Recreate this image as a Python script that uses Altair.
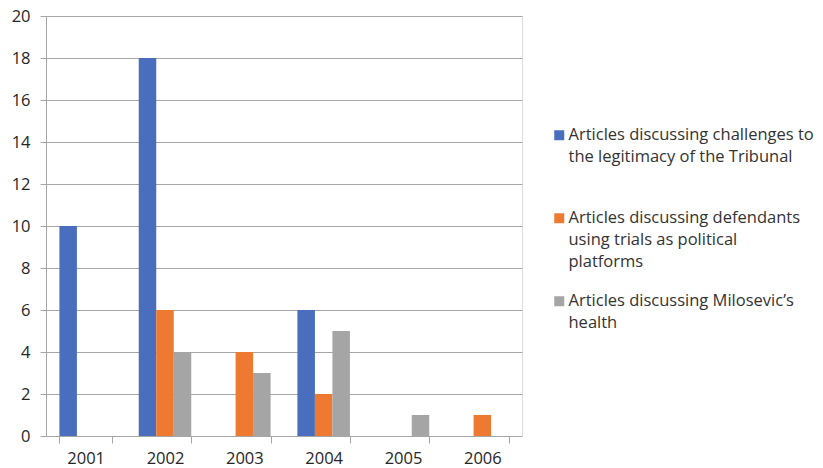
import altair as alt
import pandas as pd

years = ["2001", "2002", "2003", "2004", "2005", "2006"]
series = [
    "Articles discussing challenges to|the legitimacy of the Tribunal| ",
    "Articles discussing defendants|using  trials as political|platforms",
    "Articles discussing Milosevic\u2019s|health| ",
]
challenges = [10, 18, 0, 6, 0, 0]
defendants = [0, 6, 4, 2, 0, 1]
health = [0, 4, 3, 5, 1, 0]
colors = ["#4A6EBE", "#EE7A32", "#A5A5A5"]

rows = []
for s, vals in zip(series, [challenges, defendants, health]):
    for y, v in zip(years, vals):
        rows.append({"year": y, "series": s, "value": v})
df = pd.DataFrame(rows)

FONT = "Open Sans"

chart = alt.Chart(df).mark_bar().encode(
    x=alt.X("year:N", sort=years,
            scale=alt.Scale(paddingInner=0.338, paddingOuter=0.169),
            axis=alt.Axis(title=None, labelAngle=0, tickBand="extent",
                          domain=False, tickSize=7, tickColor="#A6A6A6",
                          labelFont=FONT, labelFontSize=16.5, labelColor="#262626",
                          labelPadding=7)),
    xOffset=alt.XOffset("series:N", sort=series, scale=alt.Scale(paddingInner=0, paddingOuter=0)),
    y=alt.Y("value:Q", scale=alt.Scale(domain=[0, 20]),
            axis=alt.Axis(title=None, values=list(range(0, 21, 2)),
                          grid=True, gridColor="#A6A6A6", domain=True,
                          domainColor="#A6A6A6", tickColor="#A6A6A6", tickSize=6,
                          labelFont=FONT, labelFontSize=16.5, labelColor="#262626",
                          labelPadding=10)),
    color=alt.Color("series:N", sort=series,
                    scale=alt.Scale(domain=series, range=colors),
                    legend=alt.Legend(title=None, orient="none", legendX=505, legendY=111,
                                      symbolType="square", symbolSize=100,
                                      symbolStrokeWidth=0,
                                      labelFont=FONT, labelFontSize=16.5, labelColor="#333333",
                                      labelExpr="split(datum.label, '|')",
                                      labelLimit=0, labelOffset=1,
                                      labelBaseline="middle",
                                      rowPadding=22, padding=0)),
).properties(
    width=476, height=420,
    padding={"left": 46, "top": 16, "right": 301, "bottom": 32},
    autosize=alt.AutoSizeParams(type="none"),
).configure_view(stroke=None).configure(
    style={"guide-label": {"lineHeight": 22}}
).configure_legend(labelLimit=0)

chart.save("out.html", embed_options={"renderer": "svg", "actions": False})
